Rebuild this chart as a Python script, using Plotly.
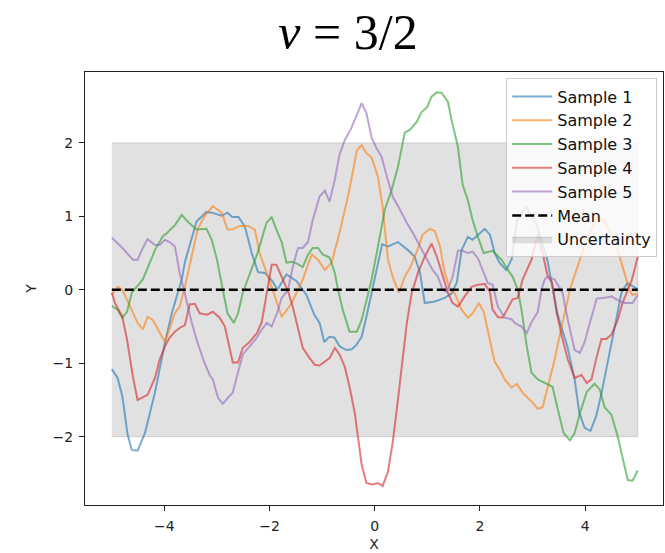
import plotly.graph_objects as go

# Five GP prior draws (Matern nu=3/2), read at their sample locations
x1 = [-5.0, -4.89, -4.80, -4.70, -4.62, -4.51, -4.37, -4.18, -3.99, -3.86, -3.67, -3.61, -3.39,
      -3.20, -3.10, -2.91, -2.80, -2.71, -2.59, -2.47, -2.34, -2.22, -2.09, -1.94, -1.85, -1.68,
      -1.49, -1.30, -1.15, -1.05, -0.96, -0.86, -0.77, -0.67, -0.54, -0.44, -0.35, -0.25, -0.16,
      -0.06, 0.03, 0.14, 0.25, 0.44, 0.63, 0.76, 0.86, 0.95, 1.14, 1.33, 1.46, 1.56, 1.65, 1.77,
      1.86, 1.96, 2.09, 2.19, 2.28, 2.37, 2.50, 2.60, 2.71, 2.88, 3.09, 3.28, 3.38, 3.47, 3.66,
      3.80, 3.89, 3.99, 4.10, 4.21, 4.31, 4.40, 4.50, 4.60, 4.69, 4.80, 4.90, 5.0]
y1 = [-1.08, -1.2, -1.45, -1.97, -2.18, -2.19, -1.95, -1.4, -0.72, -0.32, 0.14, 0.38, 0.93,
      1.06, 1.05, 1.01, 1.05, 0.99, 0.99, 0.86, 0.5, 0.24, 0.23, 0.11, 0.0, 0.21,
      0.12, -0.07, -0.34, -0.45, -0.71, -0.64, -0.65, -0.77, -0.82, -0.81, -0.75, -0.64, -0.37,
      -0.04, 0.3, 0.62, 0.59, 0.65, 0.54, 0.45, 0.23, -0.18, -0.16, -0.11, -0.05, 0.1, 0.54, 0.72,
      0.68, 0.75, 0.83, 0.75, 0.5, 0.37, 0.27, 0.41, 0.95, 1.13, 0.86, 0.41, 0.0, -0.32, -0.77,
      -1.22, -1.68, -1.88, -1.92, -1.72, -1.41, -1.09, -0.77, -0.37, -0.04, 0.09, 0.05, 0.01]

x2 = [-5.0, -4.89, -4.80, -4.70, -4.51, -4.41, -4.32, -4.22, -3.99, -3.80, -3.71, -3.61, -3.48,
      -3.37, -3.24, -3.08, -2.91, -2.80, -2.71, -2.57, -2.41, -2.28, -2.19, -2.09, -1.96, -1.77,
      -1.58, -1.37, -1.29, -1.20, -1.08, -0.95, -0.82, -0.67, -0.51, -0.34, -0.25, -0.16, -0.06,
      0.06, 0.15, 0.25, 0.34, 0.46, 0.57, 0.67, 0.80, 0.91, 1.05, 1.14, 1.24, 1.33, 1.43, 1.52,
      1.65, 1.77, 1.86, 1.98, 2.07, 2.19, 2.28, 2.38, 2.47, 2.60, 2.70, 2.81, 2.98, 3.10, 3.19,
      3.29, 3.42, 3.52, 3.61, 3.71, 3.80, 4.05, 4.24, 4.37, 4.56, 4.75, 4.85, 4.90, 5.0]
y2 = [-0.07, 0.04, 0.0, -0.16, -0.45, -0.54, -0.37, -0.41, -0.71, -0.32, -0.23, 0.04, 0.45,
      0.82, 1.0, 1.14, 1.05, 0.82, 0.82, 0.87, 0.87, 0.82, 0.5, 0.31, 0.04, -0.37,
      -0.18, 0.14, 0.31, 0.48, 0.41, 0.27, 0.37, 0.78, 1.27, 1.9, 1.97, 1.86, 1.8,
      1.54, 1.13, 0.41, 0.18, -0.04, 0.18, 0.3, 0.52, 0.75, 0.83, 0.8, 0.59, 0.23, 0.0, -0.05,
      -0.27, -0.38, -0.32, -0.18, -0.3, -0.68, -0.98, -1.09, -1.22, -1.33, -1.28, -1.4, -1.52, -1.62, -1.6,
      -1.32, -0.95, -0.61, -0.3, 0.0, 0.2, 0.72, 1.0, 0.92, 0.68, 0.23, -0.02, -0.07, -0.05]

x3 = [-5.0, -4.89, -4.80, -4.71, -4.62, -4.41, -4.18, -4.03, -3.94, -3.80, -3.67, -3.56, -3.39,
      -3.20, -3.10, -3.00, -2.89, -2.80, -2.68, -2.60, -2.51, -2.38, -2.23, -2.06, -1.96, -1.87,
      -1.77, -1.68, -1.56, -1.46, -1.37, -1.27, -1.18, -1.08, -0.99, -0.86, -0.76, -0.70, -0.61,
      -0.48, -0.34, -0.25, -0.16, -0.06, 0.06, 0.19, 0.32, 0.44, 0.57, 0.67, 0.80, 0.89, 0.99,
      1.08, 1.18, 1.27, 1.39, 1.46, 1.58, 1.67, 1.77, 1.86, 1.96, 2.07, 2.24, 2.41, 2.53, 2.62,
      2.72, 2.79, 2.89, 2.98, 3.10, 3.23, 3.38, 3.48, 3.59, 3.71, 3.80, 3.90, 4.03, 4.18, 4.28,
      4.37, 4.50, 4.62, 4.71, 4.81, 4.90, 5.0]
y3 = [-0.22, -0.27, -0.38, -0.3, -0.04, 0.14, 0.54, 0.73, 0.78, 0.88, 1.02, 0.93, 0.82,
      0.83, 0.68, 0.41, 0.0, -0.32, -0.45, -0.32, -0.04, 0.2, 0.5, 0.91, 0.99, 0.82,
      0.65, 0.37, 0.38, 0.35, 0.31, 0.48, 0.57, 0.57, 0.48, 0.44, 0.23, 0.0, -0.27,
      -0.57, -0.57, -0.41, -0.14, 0.14, 0.59, 1.09, 1.36, 1.67, 2.14, 2.18, 2.29, 2.42, 2.48,
      2.63, 2.69, 2.68, 2.56, 2.31, 1.95, 1.43, 1.22, 0.95, 0.72, 0.5, 0.53, 0.41, 0.27, 0.18,
      0.0, -0.27, -0.77, -1.13, -1.22, -1.27, -1.32, -1.63, -1.95, -2.05, -1.95, -1.68, -1.39, -1.28, -1.36,
      -1.6, -1.7, -2.0, -2.27, -2.59, -2.6, -2.46]

x4 = [-5.0, -4.94, -4.80, -4.71, -4.60, -4.51, -4.32, -4.18, -4.09, -3.99, -3.90, -3.80, -3.71,
      -3.61, -3.52, -3.42, -3.33, -3.19, -3.08, -2.95, -2.85, -2.76, -2.70, -2.60, -2.51, -2.38,
      -2.24, -2.15, -2.09, -2.03, -1.96, -1.87, -1.77, -1.65, -1.56, -1.46, -1.37, -1.24, -1.14,
      -1.05, -0.95, -0.86, -0.76, -0.67, -0.57, -0.48, -0.38, -0.32, -0.25, -0.16, -0.04, 0.06,
      0.15, 0.25, 0.34, 0.44, 0.53, 0.61, 0.70, 0.82, 0.95, 1.08, 1.18, 1.27, 1.39, 1.48, 1.58,
      1.71, 1.84, 1.96, 2.09, 2.19, 2.24, 2.34, 2.43, 2.53, 2.62, 2.72, 2.81, 2.98, 3.10, 3.19,
      3.29, 3.37, 3.46, 3.56, 3.67, 3.80, 3.93, 4.03, 4.12, 4.22, 4.31, 4.40, 4.50, 4.62, 4.71,
      4.81, 4.89, 5.0]
y4 = [-0.04, -0.18, -0.37, -0.68, -1.18, -1.5, -1.43, -1.2, -0.95, -0.77, -0.65, -0.57, -0.52,
      -0.48, -0.2, -0.19, -0.32, -0.34, -0.3, -0.38, -0.5, -0.77, -0.99, -0.99, -0.79, -0.71,
      -0.59, -0.44, -0.18, 0.05, 0.34, 0.34, 0.18, -0.02, -0.23, -0.54, -0.79, -0.93, -1.02,
      -1.03, -0.98, -0.93, -0.79, -0.88, -1.05, -1.32, -1.68, -2.04, -2.38, -2.63, -2.65, -2.63,
      -2.67, -2.48, -2.08, -1.5, -0.91, -0.45, -0.05, 0.23, 0.45, 0.63, 0.45, 0.23, -0.04, -0.18, -0.23,
      -0.09, 0.04, 0.07, 0.08, -0.03, -0.27, -0.37, -0.38, -0.25, -0.13, -0.11, 0.14, 0.41, 0.75, 0.5,
      0.18, 0.1, -0.32, -0.64, -0.95, -1.2, -1.16, -1.27, -1.22, -0.91, -0.67, -0.67, -0.61, -0.41, -0.18,
      0.0, 0.14, 0.45]

x5 = [-5.0, -4.80, -4.60, -4.51, -4.41, -4.32, -4.18, -4.09, -3.99, -3.90, -3.80, -3.71, -3.63,
      -3.56, -3.48, -3.37, -3.24, -3.14, -3.08, -2.98, -2.89, -2.79, -2.70, -2.60, -2.51, -2.38,
      -2.24, -2.15, -2.05, -1.96, -1.86, -1.77, -1.65, -1.56, -1.46, -1.37, -1.27, -1.18, -1.05,
      -0.95, -0.86, -0.76, -0.67, -0.57, -0.46, -0.34, -0.25, -0.16, -0.06, 0.03, 0.13, 0.23,
      0.34, 0.48, 0.61, 0.72, 0.86, 0.99, 1.10, 1.20, 1.29, 1.37, 1.48, 1.58, 1.67, 1.77, 1.86,
      1.96, 2.05, 2.15, 2.24, 2.34, 2.47, 2.60, 2.66, 2.79, 2.89, 2.98, 3.10, 3.17, 3.23, 3.29,
      3.42, 3.57, 3.67, 3.80, 3.90, 3.99, 4.09, 4.22, 4.37, 4.50, 4.62, 4.75, 4.90, 5.0]
y5 = [0.71, 0.57, 0.41, 0.41, 0.57, 0.69, 0.61, 0.61, 0.68, 0.65, 0.59, 0.23, 0.0,
      -0.23, -0.45, -0.72, -0.99, -1.16, -1.22, -1.47, -1.55, -1.47, -1.4, -1.12, -0.88, -0.77,
      -0.65, -0.54, -0.45, -0.5, -0.32, -0.11, 0.0, 0.31, 0.57, 0.57, 0.65, 0.95, 1.27,
      1.35, 1.2, 1.5, 1.84, 2.04, 2.18, 2.38, 2.54, 2.41, 2.07, 1.93, 1.81, 1.54,
      1.27, 1.09, 0.91, 0.78, 0.59, 0.41, 0.27, 0.18, 0.0, -0.03, 0.18, 0.53, 0.53, 0.5, 0.52,
      0.43, 0.27, 0.09, 0.07, -0.23, -0.38, -0.4, -0.45, -0.5, -0.59, -0.44, -0.3, 0.0, 0.14, 0.18,
      0.14, -0.04, -0.41, -0.82, -0.86, -0.71, -0.45, -0.12, -0.11, -0.09, -0.14, -0.18, -0.18, -0.07]

sample_x = [x1, x2, x3, x4, x5]
sample_y = [y1, y2, y3, y4, y5]
sample_names = ["Sample 1", "Sample 2", "Sample 3", "Sample 4", "Sample 5"]
sample_colors = ["rgba(31,119,180,0.6)", "rgba(255,127,14,0.6)", "rgba(44,160,44,0.6)",
                 "rgba(214,39,40,0.6)", "rgba(148,103,189,0.6)"]

# Prior mean and +/- 2 std band
band_x = [-5.0, 5.0]
mean_y = [0.0, 0.0]
upper_y = [2.0, 2.0]
lower_y = [-2.0, -2.0]

x_ticks = [-4, -2, 0, 2, 4]
y_ticks = [-2, -1, 0, 1, 2]

fig = go.Figure()

fig.add_trace(go.Scatter(
    x=band_x + band_x[::-1], y=upper_y + lower_y[::-1],
    fill="toself", fillcolor="rgba(128,128,128,0.24)",
    line=dict(color="rgba(128,128,128,0.3)", width=1),
    mode="lines", name="Uncertainty", legendrank=7, hoverinfo="skip"))

for xs, ys, nm, col, rk in zip(sample_x, sample_y, sample_names, sample_colors, range(1, 6)):
    fig.add_trace(go.Scatter(x=xs, y=ys, mode="lines", name=nm, legendrank=rk,
                             line=dict(color=col, width=2)))

fig.add_trace(go.Scatter(x=band_x, y=mean_y, mode="lines", name="Mean", legendrank=6,
                         line=dict(color="black", width=2.5, dash="9px,4px")))

axis_common = dict(showline=True, mirror=True, linecolor="#222", linewidth=1,
                   ticks="outside", ticklen=5, tickwidth=1, tickcolor="#222",
                   ticklabelstandoff=3,
                   showgrid=False, zeroline=False,
                   tickfont=dict(family="DejaVu Sans", size=14, color="#222"),
                   title_font=dict(family="DejaVu Sans", size=14, color="#222"))

fig.update_layout(
    width=665, height=553,
    margin=dict(l=85, r=2, t=72, b=48),
    paper_bgcolor="white", plot_bgcolor="white",
    title=dict(text="<i>ν</i> = 3/2", x=348 / 665, xref="container", xanchor="center",
               y=1 - 31 / 553, yref="container", yanchor="middle",
               font=dict(family="Liberation Serif", size=50, color="black")),
    xaxis=dict(range=[-5.51, 5.48], tickvals=x_ticks, title=dict(text="X", standoff=6), **axis_common),
    yaxis=dict(range=[-2.93, 2.965], tickvals=y_ticks, title=dict(text="Y", standoff=12), **axis_common),
    legend=dict(x=0.99, y=0.985, xanchor="right", yanchor="top",
                bgcolor="rgba(255,255,255,0.8)", bordercolor="#cccccc", borderwidth=1,
                font=dict(family="DejaVu Sans", size=16, color="#111"),
                itemwidth=40, traceorder="normal"),
    showlegend=True,
)

fig.write_html("out.html")
